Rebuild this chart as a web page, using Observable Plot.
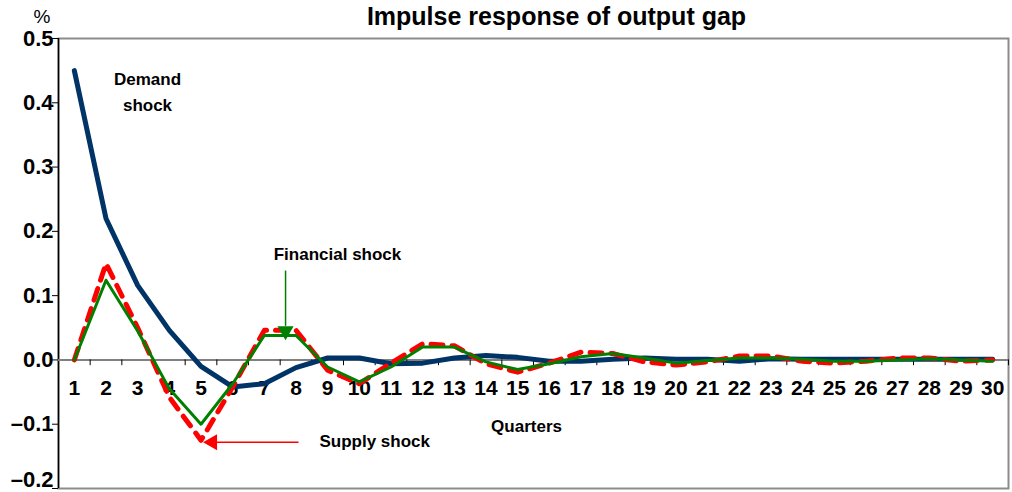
<!DOCTYPE html>
<html><head><meta charset="utf-8">
<script src="https://cdn.jsdelivr.net/npm/d3@7"></script>
<script src="https://cdn.jsdelivr.net/npm/@observablehq/plot@0.6"></script>
<style>
body{margin:0;background:#fff;}
svg{font-family:"Liberation Sans",Arial,sans-serif;}
</style>
</head><body><div id="chart"></div>
<script>
const quarters = d3.range(1, 31);
const demand = [0.45,0.22,0.116,0.046,-0.01,-0.042,-0.037,-0.012,0.003,0.003,-0.006,-0.005,0.003,0.007,0.004,-0.002,-0.002,0.001,0.003,0.001,0.001,-0.002,0.002,0.001,0.001,0.001,0.001,0.001,0.001,0.001];
const supply = [0,0.15,0.05,-0.058,-0.125,-0.042,0.046,0.046,-0.016,-0.037,-0.005,0.025,0.022,-0.006,-0.019,-0.005,0.012,0.01,-0.003,-0.008,-0.003,0.006,0.006,-0.002,-0.005,-0.002,0.003,0.003,-0.002,0];
const financial = [0,0.124,0.045,-0.045,-0.1,-0.037,0.038,0.038,-0.011,-0.034,-0.011,0.02,0.02,-0.003,-0.015,-0.006,0.005,0.01,0.003,-0.005,-0.001,0.003,0.003,0.001,-0.002,-0.002,0,0.002,0,-0.002];
const yTicks = [-0.2,-0.1,0,0.1,0.2,0.3,0.4,0.5];
const titleText = "Impulse response of output gap";
const unitText = "%";
// annotations in data coordinates (quarter, value)
const centeredLabels = [
  {x: 3.31, y: 0.436, text: "Demand"},
  {x: 3.31, y: 0.396, text: "shock"},
  {x: 9.31, y: 0.164, text: "Financial shock"},
  {x: 15.28, y: -0.103, text: "Quarters"}
];
const startLabels = [
  {x: 8.74, y: -0.127, text: "Supply shock"}
];
const arrows = [
  {x1: 7.67, y1: 0.139, x2: 7.67, y2: 0.053, hx: 7.67, hy: 0.045, rot: 180, color: "#008000"},
  {x1: 8.08, y1: -0.128, x2: 5.45, y2: -0.128, hx: 5.36, hy: -0.128, rot: -90, color: "#ff0000"}
];

const rows = [];
quarters.forEach((q, i) => {
  rows.push({q, series: "Supply", v: supply[i]});
  rows.push({q, series: "Demand", v: demand[i]});
  rows.push({q, series: "Financial", v: financial[i]});
});
const fmt = d => d < 0 ? "\u2013" + Math.abs(d).toFixed(1) : d.toFixed(1);
const yMin = d3.min(yTicks);

const chart = Plot.plot({
  width: 1012, height: 492,
  marginLeft: 58, marginRight: 4, marginTop: 38, marginBottom: 4,
  x: {domain: [0.5, 30.5], axis: null},
  y: {domain: [-0.2, 0.5], axis: null},
  style: {fontFamily: "'Liberation Sans', Arial, sans-serif", background: "#fff", color: "#000"},
  marks: [
    Plot.frame({stroke: "#8c8c8c", strokeWidth: 2}),
    Plot.ruleX([0.5], {stroke: "#000", strokeWidth: 1.5}),
    Plot.axisY(yTicks, {anchor: "left", tickSize: 6, text: null, label: null, stroke: "#000"}),
    Plot.text(yTicks.filter(d => d !== yMin), {x: 0.5, y: d => d, text: fmt, textAnchor: "end", dx: -5, fontSize: 22, fontWeight: "bold"}),
    Plot.text(yTicks.filter(d => d === yMin), {x: 0.5, y: d => d, text: fmt, textAnchor: "end", dx: -5, dy: -9, fontSize: 22, fontWeight: "bold"}),
    Plot.ruleY([0], {stroke: "#808080", strokeWidth: 2}),
    Plot.ruleX(quarters.map(q => q + 0.5), {y1: 0, y2: -0.009, stroke: "#000", strokeWidth: 1}),
    Plot.text(quarters, {x: d => d, y: 0, dy: 28, text: d => String(d), fontSize: 21, fontWeight: "bold"}),
    Plot.line(rows.filter(d => d.series === "Demand"), {x: "q", y: "v", stroke: "#003366", strokeWidth: 5}),
    Plot.line(rows.filter(d => d.series === "Supply"), {x: "q", y: "v", stroke: "#ff0000", strokeWidth: 5, strokeDasharray: "12,9"}),
    Plot.line(rows.filter(d => d.series === "Financial"), {x: "q", y: "v", stroke: "#008000", strokeWidth: 3}),
    Plot.link(arrows, {x1: "x1", y1: "y1", x2: "x2", y2: "y2", stroke: "color", strokeWidth: 1.5}),
    Plot.dot(arrows, {x: "hx", y: "hy", symbol: "triangle", rotate: "rot", fill: "color", r: 6}),
    Plot.text(centeredLabels, {x: "x", y: "y", text: "text", textAnchor: "middle", fontSize: 17, fontWeight: "bold"}),
    Plot.text(startLabels, {x: "x", y: "y", text: "text", textAnchor: "start", fontSize: 17, fontWeight: "bold"}),
    Plot.text([titleText], {frameAnchor: "top", lineAnchor: "middle", dx: 23, dy: -22, fontSize: 25, fontWeight: "bold"}),
    Plot.text([unitText], {frameAnchor: "top-left", lineAnchor: "middle", dx: -25, dy: -22, fontSize: 19})
  ]
});
document.getElementById("chart").appendChild(chart);
</script>
</body></html>
